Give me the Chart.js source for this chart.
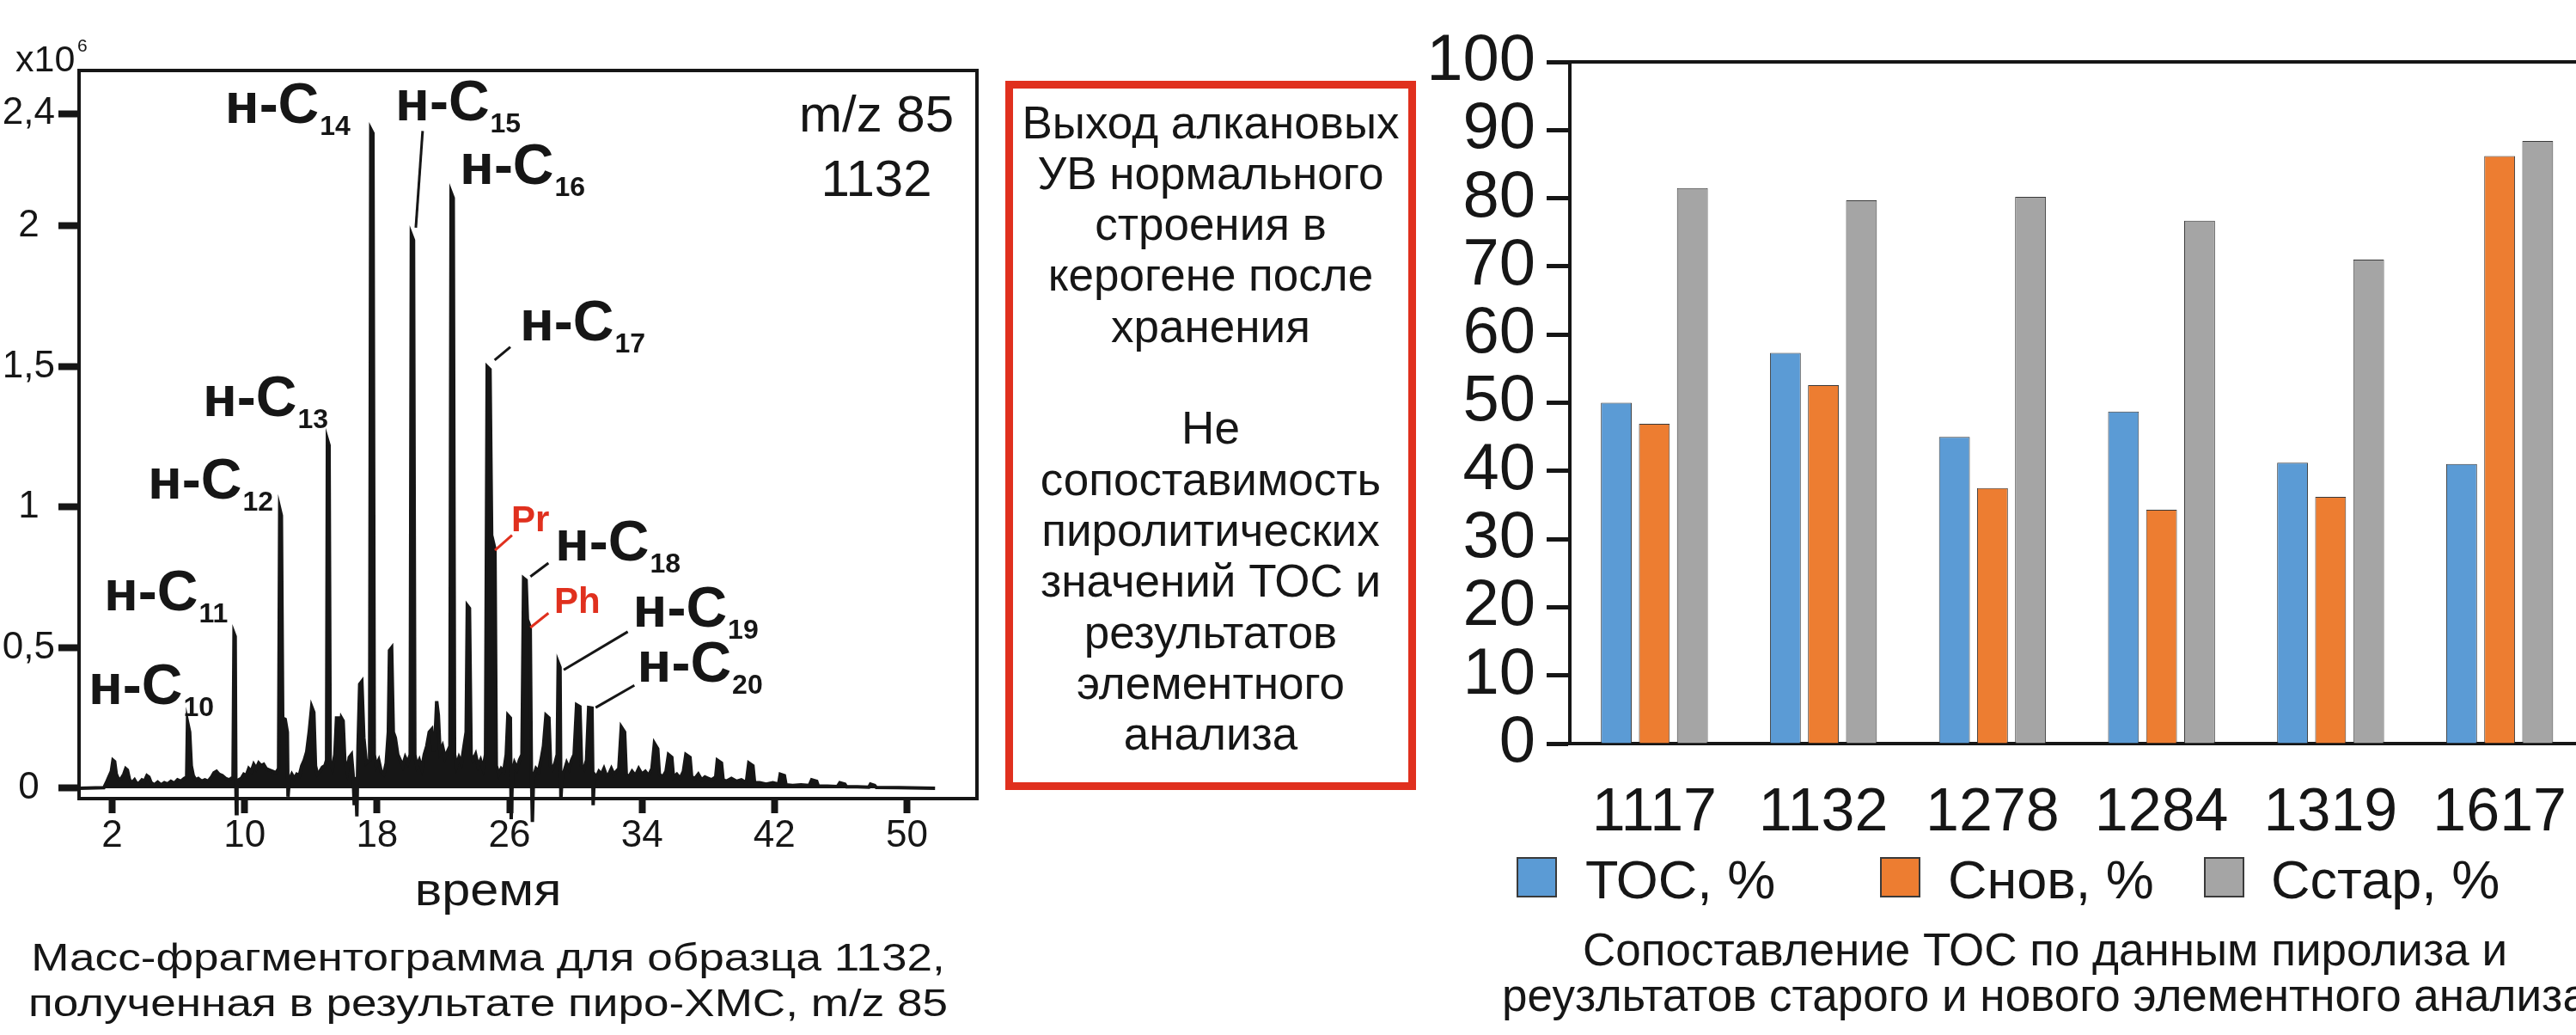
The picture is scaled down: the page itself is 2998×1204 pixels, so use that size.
<!DOCTYPE html>
<html lang="ru">
<head>
<meta charset="utf-8">
<title>Пиро-ХМС m/z 85 и ТОС</title>
<script src="https://cdn.jsdelivr.net/npm/chart.js@4.4.1/dist/chart.umd.min.js"></script>
<style>
  html, body { margin: 0; padding: 0; background: #fff; }
  body { position: relative; width: 2998px; height: 1204px; overflow: hidden;
         font-family: "Liberation Sans", Arial, sans-serif; color: #161616; }
  canvas { position: absolute; top: 0; }
  #fragChart { left: 0; }
  #tocChart { left: 1600px; }
  .txt { position: absolute; white-space: nowrap; text-align: center; }
  #timeTitle { left: 368px; width: 400px; top: 1007px; font-size: 54px; line-height: 54px; transform: scaleX(1.1); }
  #fragCaption { left: -32px; width: 1200px; top: 1087px; font-size: 45px; line-height: 53px; transform: scaleX(1.18); }
  #note { position: absolute; left: 1170px; top: 94px; width: 478px; height: 825px; box-sizing: border-box;
          border: 9px solid #e0301e; padding-top: 9.6px; text-align: center;
          font-size: 53px; line-height: 59.3px; white-space: nowrap; }
  #tocCaption { left: 1580px; width: 1600px; top: 1078px; font-size: 53px; line-height: 53px; }
  .key { position: absolute; top: 997px; width: 47px; height: 47px; box-sizing: border-box; border: 2px solid #3a3a3a; }
  .keyText { position: absolute; top: 992px; font-size: 63px; line-height: 63px; white-space: nowrap; }
</style>
</head>
<body>
<canvas id="fragChart" width="1160" height="1000"></canvas>
<div id="note">Выход алкановых<br>УВ нормального<br>строения в<br>керогене после<br>хранения<br><br>Не<br>сопоставимость<br>пиролитических<br>значений ТОС и<br>результатов<br>элементного<br>анализа</div>
<canvas id="tocChart" width="1420" height="1000"></canvas>
<div class="txt" id="timeTitle">время</div>
<div class="txt" id="fragCaption">Масс-фрагментограмма для образца 1132,<br>полученная в результате пиро-ХМС, m/z 85</div>
<div class="txt" id="tocCaption">Сопоставление ТОС по данным пиролиза и<br>реузльтатов старого и нового элементного анализа</div>
<div id="legend"></div>
<script>
// --- chromatogram m/z 85, sample 1132 (time, intensity x10^6) ---
const trace85 = [
  [0,0],[1.5,0.002],[1.65,0.02],[1.8,0.04],[1.95,0.06],[2.05,0.1],[2.15,0.095],[2.25,0.05],[2.4,0.03],[2.55,0.035],
  [2.7,0.05],[2.82,0.07],[2.92,0.065],[3.05,0.03],[3.2,0.02],[3.35,0.03],[3.5,0.015],[3.65,0.02],[3.8,0.03],[3.95,0.025],
  [4.1,0.045],[4.22,0.04],[4.35,0.02],[4.55,0.012],[4.75,0.022],[4.95,0.012],[5.15,0.02],[5.35,0.015],[5.55,0.025],
  [5.75,0.018],[5.95,0.03],[6.15,0.025],[6.35,0.035],[6.5,0.04],
  [6.55,0.236],[6.68,0.2],[6.78,0.08],[6.9,0.045],[7.05,0.03],[7.2,0.035],[7.4,0.025],[7.6,0.03],[7.8,0.025],[8.0,0.04],
  [8.15,0.055],[8.3,0.06],[8.45,0.05],[8.65,0.045],[8.85,0.035],[9.05,0.03],[9.2,0.035],[9.3,0.04],
  [9.36,0.551],[9.43,0.54],[9.47,0.02],[9.5,-0.09],[9.54,0.01],[9.65,0.03],[9.8,0.035],[9.95,0.05],[10.1,0.045],
  [10.25,0.07],[10.4,0.06],[10.55,0.085],[10.7,0.07],[10.85,0.09],[11.0,0.08],[11.15,0.085],[11.3,0.07],[11.5,0.065],
  [11.7,0.06],[11.9,0.055],[12.05,0.07],
  [12.12,0.995],[12.22,0.97],[12.3,0.25],[12.45,0.245],[12.58,0.2],[12.62,-0.03],[12.7,0.03],[12.85,0.05],[13.0,0.035],
  [13.15,0.05],[13.3,0.045],[13.45,0.08],[13.6,0.1],[13.75,0.13],[13.9,0.2],[14.05,0.29],[14.18,0.27],[14.28,0.08],
  [14.4,0.05],[14.55,0.06],[14.7,0.075],[14.85,0.08],[14.95,0.1],
  [15.0,1.24],[15.1,1.22],[15.17,0.09],[15.3,0.07],[15.45,0.12],[15.55,0.25],[15.68,0.25],[15.75,0.18],[15.85,0.25],
  [15.95,0.24],[16.05,0.1],[16.2,0.06],[16.32,0.11],[16.45,0.12],[16.55,0.05],[16.62,-0.06],[16.7,0.04],[16.78,-0.1],
  [16.85,0.15],[16.95,0.37],[17.08,0.38],[17.2,0.18],[17.35,0.09],[17.55,0.1],
  [17.62,2.345],[17.75,2.33],[17.83,0.12],[17.95,0.08],[18.1,0.1],[18.25,0.06],[18.4,0.05],[18.55,0.09],[18.68,0.2],
  [18.75,0.49],[18.88,0.5],[18.98,0.2],[19.1,0.18],[19.25,0.12],[19.4,0.1],[19.55,0.08],[19.7,0.11],[19.85,0.09],[20.0,0.12],
  [20.07,1.97],[20.2,1.95],[20.28,0.12],[20.4,0.08],[20.55,0.1],[20.7,0.07],[20.85,0.12],[21.0,0.15],[21.15,0.2],
  [21.3,0.21],[21.42,0.13],[21.52,0.2],[21.6,0.31],[21.7,0.26],[21.8,0.13],[21.95,0.15],[22.1,0.11],[22.25,0.13],[22.4,0.15],
  [22.47,2.12],[22.6,2.1],[22.68,0.12],[22.8,0.08],[22.95,0.11],[23.1,0.09],[23.25,0.15],[23.38,0.2],[23.45,0.65],
  [23.58,0.64],[23.68,0.12],[23.8,0.1],[23.95,0.12],[24.1,0.08],[24.25,0.1],[24.4,0.07],[24.55,0.12],
  [24.65,1.5],[24.82,1.49],[24.92,0.9],[25.12,0.85],[25.2,0.08],[25.35,0.05],[25.5,0.07],[25.65,0.06],[25.8,0.12],
  [25.9,0.26],[26.05,0.25],[26.1,-0.11],[26.18,0.06],[26.3,0.09],[26.45,0.07],[26.6,0.1],[26.75,0.12],
  [26.85,0.747],[27.0,0.74],[27.08,0.6],[27.25,0.572],[27.32,0.06],[27.38,-0.12],[27.45,0.04],[27.6,0.07],[27.75,0.06],
  [27.9,0.1],[28.05,0.15],[28.2,0.26],[28.38,0.25],[28.48,0.08],[28.6,0.07],[28.75,0.09],[28.88,0.12],
  [28.94,0.447],[29.05,0.43],[29.1,-0.04],[29.18,0.05],[29.3,0.06],[29.45,0.09],[29.6,0.07],[29.75,0.1],[29.9,0.12],
  [30.05,0.297],[30.25,0.29],[30.35,0.08],[30.5,0.07],[30.65,0.1],[30.78,0.287],[30.98,0.285],[31.05,-0.06],[31.12,0.05],
  [31.25,0.04],[31.4,0.06],[31.55,0.05],[31.7,0.07],[31.85,0.045],[32.0,0.05],[32.15,0.07],[32.3,0.05],[32.45,0.06],
  [32.6,0.07],[32.75,0.218],[32.95,0.2],[33.05,0.05],[33.2,0.04],[33.4,0.06],[33.6,0.045],[33.8,0.07],[34.0,0.05],
  [34.2,0.06],[34.4,0.045],[34.6,0.07],[34.75,0.16],[34.95,0.14],[35.05,0.05],[35.25,0.04],[35.45,0.06],[35.6,0.12],
  [35.8,0.11],[35.9,0.04],[36.1,0.05],[36.3,0.035],[36.5,0.06],[36.65,0.12],[36.9,0.11],[37.0,0.04],[37.2,0.035],
  [37.4,0.05],[37.6,0.03],[37.8,0.04],[38.0,0.035],[38.2,0.03],[38.45,0.04],[38.55,0.1],[38.8,0.09],[38.9,0.03],
  [39.1,0.025],[39.4,0.035],[39.7,0.025],[40.0,0.03],[40.3,0.02],[40.45,0.09],[40.7,0.08],[40.8,0.02],[41.1,0.02],
  [41.5,0.015],[41.9,0.02],[42.25,0.015],[42.35,0.05],[42.6,0.045],[42.7,0.012],[43.1,0.01],[43.6,0.012],[44.1,0.01],
  [44.25,0.03],[44.55,0.025],[44.65,0.008],[45.2,0.008],[45.8,0.006],[45.95,0.02],[46.25,0.015],[46.35,0.005],
  [47.0,0.005],[47.7,0.004],[47.8,0.015],[48.05,0.01],[48.15,0.003],[49.5,0.002],[51.7,0]
];
const timeTicks = [2, 10, 18, 26, 34, 42, 50];
const intensityTicks = [0, 0.5, 1, 1.5, 2, 2.4];

// peak names: carbon number, label anchor (time, intensity)
const alkaneLabels = [
  ['10', 0.57, 0.30], ['11', 1.50, 0.632], ['12', 4.15, 1.031], ['13', 7.47, 1.324],
  ['14', 8.81, 2.368], ['15', 19.10, 2.376], ['16', 22.99, 2.150], ['17', 26.62, 1.593],
  ['18', 28.75, 0.811], ['19', 33.45, 0.574], ['20', 33.71, 0.378]
];
const isoprenoidLabels = [['Pr', 26.10, 0.913], ['Ph', 28.70, 0.623]];
// leader lines: from label to peak, last flag = red
const leaders = [
  [20.75, 2.338, 20.34, 1.994, false],
  [26.05, 1.570, 25.10, 1.523, false],
  [26.15, 0.900, 25.12, 0.847, true],
  [28.35, 0.801, 27.26, 0.753, false],
  [28.35, 0.623, 27.26, 0.572, true],
  [33.14, 0.557, 29.27, 0.421, false],
  [33.54, 0.366, 31.20, 0.287, false]
];

// --- TOC comparison ---
const samples = ['1117', '1132', '1278', '1284', '1319', '1617'];
const tocPyrolysis = [50.0, 57.3, 45.0, 48.7, 41.2, 41.0];
const cNew = [46.9, 52.6, 37.5, 34.3, 36.2, 86.2];
const cOld = [81.5, 79.7, 80.2, 76.7, 71.0, 88.4];
const seriesNames = ['ТОС, %', 'Снов, %', 'Сстар, %'];
const seriesColors = ['#5b9bd5', '#ed7d31', '#a5a5a5'];

const ink = '#161616';
const accent = '#e0301e';
const family = '"Liberation Sans", Arial, sans-serif';
Chart.defaults.font.family = family;
Chart.defaults.color = ink;

const chromAnnotations = {
  id: 'chromAnnotations',
  beforeDatasetsDraw(chart) {
    const {ctx, chartArea: a} = chart;
    ctx.save();
    ctx.strokeStyle = ink;
    ctx.lineWidth = 4;
    ctx.beginPath();
    ctx.moveTo(a.left - 2, a.top);
    ctx.lineTo(a.right, a.top);
    ctx.lineTo(a.right, a.bottom + 2);
    ctx.stroke();
    ctx.fillStyle = ink;
    ctx.textAlign = 'left';
    ctx.textBaseline = 'alphabetic';
    ctx.font = '43px ' + family;
    ctx.fillText('x10', a.left - 74, a.top + 1);
    ctx.font = '21px ' + family;
    ctx.fillText('6', a.left - 2, a.top - 22);
    ctx.restore();
  },
  afterDatasetsDraw(chart) {
    const {ctx, scales: {x, y}} = chart;
    ctx.save();
    ctx.lineWidth = 3;
    leaders.forEach(([t1, v1, t2, v2, red]) => {
      ctx.strokeStyle = red ? accent : ink;
      ctx.beginPath();
      ctx.moveTo(x.getPixelForValue(t1), y.getPixelForValue(v1));
      ctx.lineTo(x.getPixelForValue(t2), y.getPixelForValue(v2));
      ctx.stroke();
    });
    ctx.textAlign = 'left';
    ctx.textBaseline = 'alphabetic';
    ctx.fillStyle = ink;
    alkaneLabels.forEach(([n, t, v]) => {
      const px = x.getPixelForValue(t), py = y.getPixelForValue(v);
      ctx.font = 'bold 66px ' + family;
      ctx.fillText('н-С', px, py);
      const w = ctx.measureText('н-С').width;
      ctx.font = 'bold 32px ' + family;
      ctx.fillText(n, px + w + 1, py + 14);
    });
    ctx.fillStyle = accent;
    ctx.font = 'bold 42px ' + family;
    isoprenoidLabels.forEach(([s, t, v]) => {
      ctx.fillText(s, x.getPixelForValue(t), y.getPixelForValue(v));
    });
    ctx.fillStyle = ink;
    ctx.textAlign = 'center';
    ctx.font = '60px ' + family;
    ctx.fillText('m/z 85', x.getPixelForValue(48.16), y.getPixelForValue(2.336));
    ctx.fillText('1132', x.getPixelForValue(48.16), y.getPixelForValue(2.107));
    ctx.restore();
  }
};

new Chart(document.getElementById('fragChart'), {
  type: 'line',
  data: {
    datasets: [{
      data: trace85.map(([t, v]) => ({x: t, y: v})),
      borderColor: ink,
      backgroundColor: ink,
      borderWidth: 4,
      fill: 'origin',
      pointRadius: 0,
      tension: 0,
      clip: false
    }]
  },
  options: {
    responsive: false,
    animation: false,
    devicePixelRatio: 1,
    layout: {padding: {left: 0, top: 82, right: 23, bottom: 0}},
    plugins: {legend: {display: false}, tooltip: {enabled: false}},
    scales: {
      x: {
        type: 'linear', min: 0, max: 54.23,
        afterBuildTicks: s => { s.ticks = timeTicks.map(v => ({value: v})); },
        grid: {drawOnChartArea: false, tickLength: 17, tickWidth: 8, tickColor: ink},
        border: {display: true, width: 4, color: ink},
        ticks: {font: {size: 44}, color: ink, padding: 0, maxRotation: 0, autoSkip: false},
        afterFit: s => { s.height = 71; }
      },
      y: {
        min: -0.0367, max: 2.5535,
        afterBuildTicks: s => { s.ticks = intensityTicks.map(v => ({value: v})); },
        grid: {drawOnChartArea: false, tickLength: 24, tickWidth: 8, tickColor: ink},
        border: {display: true, width: 4, color: ink},
        ticks: {
          font: {size: 44}, color: ink, padding: 4, crossAlign: 'center', autoSkip: false,
          callback: v => String(v).replace('.', ',')
        },
        afterFit: s => { s.width = 92; }
      }
    }
  },
  plugins: [chromAnnotations]
});

const topBorder = {
  id: 'topBorder',
  afterDraw(chart) {
    const {ctx, chartArea: a} = chart;
    ctx.save();
    ctx.strokeStyle = ink;
    ctx.lineWidth = 4;
    ctx.beginPath();
    ctx.moveTo(a.left - 2, a.top);
    ctx.lineTo(a.right, a.top);
    ctx.stroke();
    ctx.restore();
  }
};

new Chart(document.getElementById('tocChart'), {
  type: 'bar',
  data: {
    labels: samples,
    datasets: [tocPyrolysis, cNew, cOld].map((vals, i) => ({
      label: seriesNames[i],
      data: vals,
      backgroundColor: seriesColors[i],
      borderColor: '#3a3a3a',
      borderWidth: 1,
      categoryPercentage: 0.675,
      barPercentage: 0.81
    }))
  },
  options: {
    responsive: false,
    animation: false,
    devicePixelRatio: 1,
    layout: {padding: {left: 0, top: 72, right: 12, bottom: 0}},
    plugins: {legend: {display: false}, tooltip: {enabled: false}},
    scales: {
      x: {
        grid: {display: false},
        border: {display: true, width: 4, color: ink},
        ticks: {font: {size: 70}, color: ink, padding: 32, maxRotation: 0, autoSkip: false},
        afterFit: s => { s.height = 135; }
      },
      y: {
        min: 0, max: 100,
        grid: {drawOnChartArea: false, tickLength: 27, tickWidth: 5, tickColor: ink},
        border: {display: true, width: 4, color: ink},
        ticks: {stepSize: 10, font: {size: 76}, color: ink, padding: 13, autoSkip: false},
        afterFit: s => { s.width = 227; }
      }
    }
  },
  plugins: [topBorder]
});

// legend under the bar chart
const keyLeft = [1765, 2188, 2565];
const keyTextLeft = [1845, 2267, 2643];
const legend = document.getElementById('legend');
seriesNames.forEach((name, i) => {
  const box = document.createElement('div');
  box.className = 'key';
  box.style.left = keyLeft[i] + 'px';
  box.style.background = seriesColors[i];
  legend.appendChild(box);
  const label = document.createElement('div');
  label.className = 'keyText';
  label.style.left = keyTextLeft[i] + 'px';
  label.textContent = name;
  legend.appendChild(label);
});
</script>
</body>
</html>
